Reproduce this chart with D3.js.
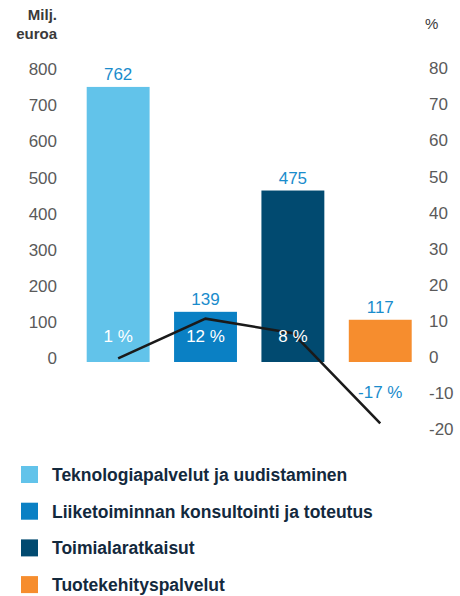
<!DOCTYPE html>
<html>
<head>
<meta charset="utf-8">
<script src="https://cdn.jsdelivr.net/npm/d3@7"></script>
<style>
  body { margin: 0; background: #fff; }
  svg text { font-family: "Liberation Sans", Arial, sans-serif; }
</style>
</head>
<body>
<script>
// data
var categories = ["Teknologiapalvelut ja uudistaminen", "Liiketoiminnan konsultointi ja toteutus", "Toimialaratkaisut", "Tuotekehityspalvelut"];
var sales = [762, 139, 475, 117];          // Milj. euroa
var growth = [1, 12, 8, -17];              // %
var leftTicks = [0, 100, 200, 300, 400, 500, 600, 700, 800];
var rightTicks = [-20, -10, 0, 10, 20, 30, 40, 50, 60, 70, 80];
var colors = ["#62c3ea", "#0a80c4", "#014a70", "#f68d2e"];

var width = 460, height = 596;

var svg = d3.select("body").append("svg")
  .attr("width", width)
  .attr("height", height);

// scales
var x = d3.scaleBand()
  .domain(categories)
  .range([86.7, 411.7])
  .paddingInner(0.28)
  .paddingOuter(0);

var yL = d3.scaleLinear().domain([0, 800]).range([362, 73.2]);
var yR = d3.scaleLinear().domain([0, 80]).range([362, 73.2]);

// axis titles
svg.append("text").attr("x", 57).attr("y", 20).attr("text-anchor", "end")
  .attr("font-size", 15).attr("font-weight", "bold").attr("fill", "#3a3a3a").text("Milj.");
svg.append("text").attr("x", 57).attr("y", 39).attr("text-anchor", "end")
  .attr("font-size", 15).attr("font-weight", "bold").attr("fill", "#3a3a3a").text("euroa");
svg.append("text").attr("x", 425).attr("y", 29)
  .attr("font-size", 15).attr("fill", "#3a3a3a").text("%");

// left axis
var gL = svg.append("g").attr("transform", "translate(57,0)")
  .call(d3.axisLeft(yL).tickValues(leftTicks).tickFormat(function(d) { return String(d); })
    .tickSize(0).tickPadding(0));
gL.select(".domain").remove();
gL.selectAll("text").attr("dy", "0").attr("y", 1.5)
  .attr("font-size", 17).attr("fill", "#5a5a5a")
  .style("font-family", '"Liberation Sans", Arial, sans-serif');

// right axis (plain hyphen for negatives, as in the original)
var gR = svg.append("g").attr("transform", "translate(429,0)")
  .call(d3.axisRight(yR).tickValues(rightTicks).tickFormat(function(d) { return String(d); })
    .tickSize(0).tickPadding(0));
gR.select(".domain").remove();
gR.selectAll("text").attr("dy", "0").attr("y", 0.5)
  .attr("font-size", 17).attr("fill", "#5a5a5a")
  .style("font-family", '"Liberation Sans", Arial, sans-serif');

// bars
svg.selectAll(".bar")
  .data(sales)
  .enter().append("rect")
  .attr("class", "bar")
  .attr("x", function(d, i) { return x(categories[i]); })
  .attr("y", function(d) { return yL(d); })
  .attr("width", x.bandwidth())
  .attr("height", function(d) { return yL(0) - yL(d); })
  .attr("fill", function(d, i) { return colors[i]; });

// value labels
svg.selectAll(".val")
  .data(sales)
  .enter().append("text")
  .attr("class", "val")
  .attr("x", function(d, i) { return x(categories[i]) + x.bandwidth() / 2; })
  .attr("y", function(d) { return yL(d) - 7; })
  .attr("text-anchor", "middle")
  .attr("font-size", 17)
  .attr("fill", "#1a8ccc")
  .text(function(d) { return d; });

// growth line
var line = d3.line()
  .x(function(d, i) { return x(categories[i]) + x.bandwidth() / 2; })
  .y(function(d) { return yR(d); });

svg.append("path")
  .datum(growth)
  .attr("d", line)
  .attr("fill", "none")
  .attr("stroke", "#1a1a1a")
  .attr("stroke-width", 2.6);

// growth labels
svg.selectAll(".pct")
  .data(growth)
  .enter().append("text")
  .attr("class", "pct")
  .attr("x", function(d, i) { return x(categories[i]) + x.bandwidth() / 2; })
  .attr("y", function(d) { return d >= 0 ? yR(0) - 20 : yR(-10); })
  .attr("text-anchor", "middle")
  .attr("font-size", 17)
  .attr("fill", function(d) { return d >= 0 ? "#ffffff" : "#1a8ccc"; })
  .text(function(d) { return d + " %"; });

// legend
var legend = svg.selectAll(".legend")
  .data(categories)
  .enter().append("g")
  .attr("class", "legend")
  .attr("transform", function(d, i) { return "translate(21," + (475 + i * 36.7) + ")"; });

legend.append("rect")
  .attr("x", 0).attr("y", -9)
  .attr("width", 17).attr("height", 17)
  .attr("fill", function(d, i) { return colors[i]; });

legend.append("text")
  .attr("x", 31).attr("y", 6)
  .attr("font-size", 17.5)
  .attr("font-weight", "bold")
  .attr("fill", "#13293d")
  .text(function(d) { return d; });
</script>
</body>
</html>
